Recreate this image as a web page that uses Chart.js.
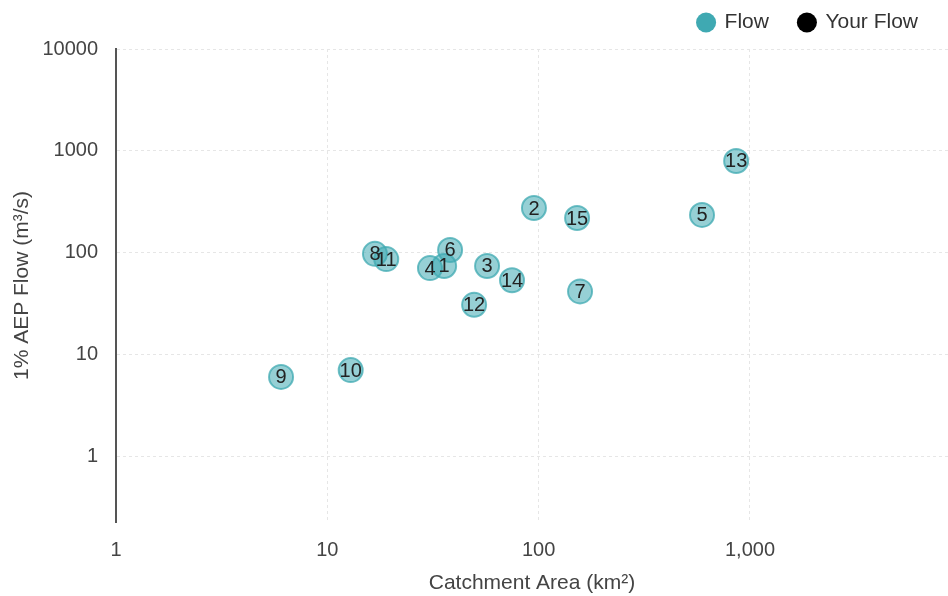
<!DOCTYPE html>
<html>
<head>
<meta charset="utf-8">
<script src="https://cdn.jsdelivr.net/npm/chart.js@4"></script>
<style>
  html,body{margin:0;padding:0;background:#fff;}
  #wrap{width:948px;height:596px;}
</style>
</head>
<body>
<div id="wrap"><canvas id="chartFlow"></canvas></div>
<script>
// gauged sites
const siteIds = ['1','2','3','4','5','6','7','8','9','10','11','12','13','14','15'];
const catchmentArea = [35.7, 95, 57, 30.6, 593, 38.1, 157, 16.8, 6.04, 12.9, 19.0, 49.5, 860, 74.8, 152];
const aepFlow = [74.6, 276, 74.6, 71, 236, 107, 42, 98, 6.09, 7.1, 87, 31, 798, 54, 220];
// user's flow (none entered)
const yourArea = [];
const yourFlow = [];

const xTicks = [1, 10, 100, 1000];
const yTicks = [1, 10, 100, 1000, 10000];

const teal = '#3fa9b2';
const FONT = 'Arial, "Liberation Sans", sans-serif';

const pointLabels = {
  id: 'pointLabels',
  afterDatasetsDraw(chart){
    const ctx = chart.ctx;
    const meta = chart.getDatasetMeta(0);
    ctx.save();
    ctx.font = '20px ' + FONT;
    ctx.fillStyle = '#222';
    ctx.textAlign = 'center';
    ctx.textBaseline = 'middle';
    meta.data.forEach((pt, i) => ctx.fillText(siteIds[i], pt.x, pt.y + 1));
    ctx.restore();
  }
};

// legend sits higher than its padding would put it
const legendFit = {
  id: 'legendFit',
  beforeUpdate(chart){
    const lg = chart.legend;
    if(!lg || lg._fitPatched) return;
    const fit = lg.fit;
    lg.fit = function(){ fit.call(this); this.height = 67; };
    lg._fitPatched = true;
  }
};

function initFlow(){
  new Chart(document.getElementById('chartFlow').getContext('2d'), {
    type:'scatter',
    data:{
      datasets:[
        { label:'Flow', data: catchmentArea.map((a,i)=>({x:a, y:aepFlow[i]})),
          backgroundColor:'rgba(63,169,178,0.55)', borderColor:'rgba(63,169,178,0.75)',
          borderWidth:2, pointRadius:12, pointHoverRadius:12 },
        { label:'Your Flow', data: yourArea.map((a,i)=>({x:a, y:yourFlow[i]})),
          backgroundColor:'#000', borderColor:'#000', pointRadius:12 }
      ]
    },
    options:{
      responsive:true, maintainAspectRatio:false, animation:false,
      layout:{ autoPadding:false, padding:{ top:-18, right:0, bottom:0, left:0 } },
      plugins:{
        tooltip:{ enabled:false },
        legend:{
          position:'top', align:'end',
          labels:{
            usePointStyle:true, pointStyle:'circle', boxWidth:16, boxHeight:14.2,
            font:{ size:21, family:FONT }, color:'#333', padding:30,
            generateLabels(chart){
              return chart.data.datasets.map((ds,i)=>({
                text:ds.label, fillStyle: i===0 ? teal : '#000', strokeStyle: i===0 ? teal : '#000',
                lineWidth:0, pointStyle:'circle', datasetIndex:i, fontColor:'#333'
              }));
            }
          }
        }
      },
      scales:{
        x:{
          type:'logarithmic', min:1, max:8650,
          afterBuildTicks(axis){ axis.ticks = xTicks.map(v=>({value:v})); },
          afterFit(axis){ axis.height = 74; axis.paddingRight = 0; axis.paddingLeft = 0; },
          ticks:{ font:{ size:20, family:FONT }, color:'#444', padding:16, autoSkip:false, maxRotation:0,
            callback:(v)=>Number(v).toLocaleString('en-US') },
          grid:{ color:'#e6e6e6', drawTicks:false },
          border:{ display:false, dash:[3,3] },
          title:{ display:true, text:'Catchment Area (km²)', font:{ size:21, family:FONT }, color:'#444', padding:{top:4,bottom:0} }
        },
        y:{
          type:'logarithmic', min:0.23, max:10000,
          afterBuildTicks(axis){ axis.ticks = yTicks.map(v=>({value:v})); },
          afterFit(axis){ axis.width = 116; axis.paddingTop = 0; axis.paddingBottom = 0; },
          ticks:{ font:{ size:20, family:FONT }, color:'#444', padding:18, autoSkip:false,
            callback:(v)=>String(v) },
          grid:{ color:'#e6e6e6', drawTicks:false },
          border:{ display:true, color:'#555', width:2, dash:[3,3] },
          title:{ display:true, text:'1% AEP Flow (m³/s)', font:{ size:21, family:FONT }, color:'#444', padding:{top:10,bottom:0} }
        }
      }
    },
    plugins:[pointLabels, legendFit]
  });
}
document.addEventListener('DOMContentLoaded', initFlow);
</script>
</body>
</html>
